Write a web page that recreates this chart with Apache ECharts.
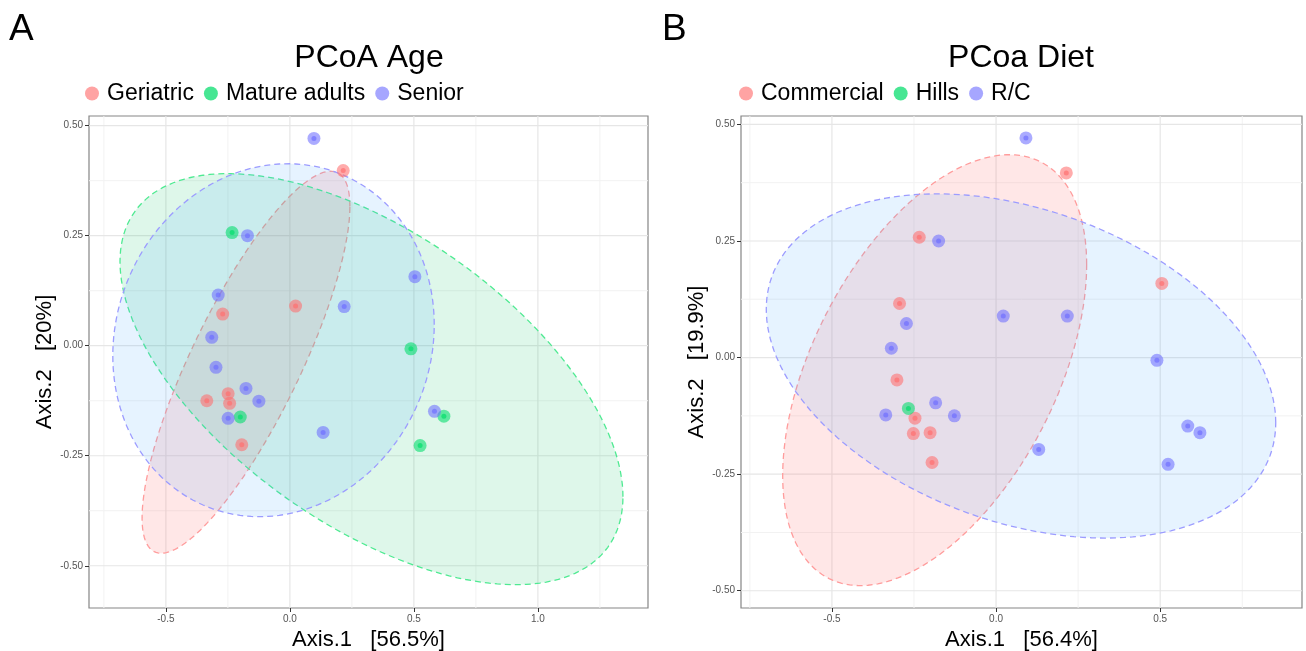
<!DOCTYPE html>
<html>
<head>
<meta charset="utf-8">
<title>PCoA Age / PCoa Diet</title>
<script src="https://cdn.jsdelivr.net/npm/echarts@6/dist/echarts.min.js"></script>
<style>
  html, body { margin: 0; padding: 0; background: #ffffff; }
  #chart { width: 1306px; height: 651px; }
</style>
</head>
<body>
<div id="chart"></div>
<script>
// ---------- Panel A: PCoA by age group ----------
const ageGroups = ['Geriatric', 'Mature adults', 'Senior'];
const ageGeriatric = [[0.215, 0.398], [-0.271, 0.072], [0.023, 0.090], [-0.249, -0.109], [-0.335, -0.125], [-0.243, -0.131], [-0.194, -0.225]];
const ageMature = [[-0.233, 0.257], [0.488, -0.007], [0.621, -0.160], [0.525, -0.227], [-0.200, -0.162]];
const ageSenior = [[0.097, 0.471], [-0.171, 0.250], [-0.289, 0.115], [0.219, 0.089], [-0.315, 0.019], [0.504, 0.157], [-0.298, -0.049], [-0.177, -0.097], [-0.125, -0.126], [-0.249, -0.165], [0.134, -0.197], [0.583, -0.149]];
// confidence ellipses: [centre x, centre y, half-width x, half-height y, correlation]
const ageEllipseGeriatric = [-0.177, -0.0375, 0.419, 0.434, 0.815];
const ageEllipseMature = [0.329, -0.076, 1.014, 0.467, -0.572];
const ageEllipseSenior = [-0.066, 0.0125, 0.648, 0.401, 0.088];
const ageXRange = [-0.810, 1.444];
const ageYRange = [-0.596, 0.522];
const ageXTicks = [-0.5, 0, 0.5, 1.0];
const ageXMinor = [-0.75, -0.25, 0.25, 0.75, 1.25];
const ageYTicks = [-0.5, -0.25, 0, 0.25, 0.5];
const ageYMinor = [-0.375, -0.125, 0.125, 0.375];

// ---------- Panel B: PCoA by diet ----------
const dietGroups = ['Commercial', 'Hills', 'R/C'];
const dietCommercial = [[-0.234, 0.258], [-0.294, 0.116], [0.214, 0.396], [0.505, 0.159], [-0.302, -0.048], [-0.247, -0.130], [-0.252, -0.163], [-0.201, -0.161], [-0.195, -0.225]];
const dietHills = [[-0.267, -0.109]];
const dietRC = [[-0.175, 0.250], [-0.273, 0.073], [0.022, 0.089], [-0.319, 0.020], [0.091, 0.471], [0.217, 0.089], [-0.184, -0.097], [-0.336, -0.123], [-0.127, -0.125], [0.490, -0.006], [0.584, -0.147], [0.621, -0.161], [0.130, -0.197], [0.524, -0.229]];
const dietEllipseCommercial = [-0.187, -0.027, 0.463, 0.462, 0.49];
const dietEllipseRC = [0.076, -0.018, 0.776, 0.369, -0.33];
const dietXRange = [-0.777, 0.932];
const dietYRange = [-0.537, 0.518];
const dietXTicks = [-0.5, 0, 0.5];
const dietXMinor = [-0.75, -0.25, 0.25, 0.75];
const dietYTicks = [-0.5, -0.25, 0, 0.25, 0.5];
const dietYMinor = [-0.375, -0.125, 0.125, 0.375];

// ---------- styling ----------
const FONT = '"Liberation Sans", Arial, Helvetica, sans-serif';
const RED = '#FF6F6F', GREEN = '#00DD6A', BLUE = '#6F6FFF';
const palette = {
  red:   { point: RED,   legend: 'rgba(255,111,111,0.64)', stroke: '#FF9C9C', fill: 'rgba(255,112,112,0.17)' },
  green: { point: GREEN, legend: 'rgba(0,221,106,0.72)',   stroke: '#4FEA92', fill: 'rgba(0,192,96,0.13)' },
  blue:  { point: BLUE,  legend: 'rgba(111,111,255,0.62)', stroke: '#9C9CFF', fill: 'rgba(80,170,255,0.14)' }
};

// Builds the outline of an ellipse (in data units) from its parameters.
function ellipseOutline(p, n) {
  const [cx, cy, a, b, r] = p;
  const s = Math.sqrt(1 - r * r);
  const pts = [];
  for (let i = 0; i < n; i++) {
    const t = (2 * Math.PI * i) / n;
    pts.push([cx + a * Math.cos(t), cy + b * (r * Math.cos(t) + s * Math.sin(t))]);
  }
  return pts;
}

function ellipseSeries(name, params, colors, axisIndex) {
  const outline = ellipseOutline(params, 180);
  return {
    type: 'custom', name: name, xAxisIndex: axisIndex, yAxisIndex: axisIndex,
    silent: true, clip: true, z: 2,
    data: [[params[0], params[1]]],
    renderItem: function (info, api) {
      return {
        type: 'polygon',
        shape: { points: outline.map(function (q) { return api.coord(q); }) },
        style: { fill: colors.fill, stroke: colors.stroke, lineWidth: 1.3, lineDash: [6, 4] }
      };
    }
  };
}

// Light background grid (major + minor lines) in data units.
function gridSeries(axisIndex, xr, yr, xMajor, xMinor, yMajor, yMinor) {
  return {
    type: 'custom', xAxisIndex: axisIndex, yAxisIndex: axisIndex, silent: true, z: 1,
    data: [[xr[0], yr[0]]],
    renderItem: function (info, api) {
      const children = [];
      function vline(v, color, w) {
        const p0 = api.coord([v, yr[0]]), p1 = api.coord([v, yr[1]]);
        children.push({ type: 'line', shape: { x1: p0[0], y1: p0[1], x2: p1[0], y2: p1[1] }, style: { stroke: color, lineWidth: w } });
      }
      function hline(v, color, w) {
        const p0 = api.coord([xr[0], v]), p1 = api.coord([xr[1], v]);
        children.push({ type: 'line', shape: { x1: p0[0], y1: p0[1], x2: p1[0], y2: p1[1] }, style: { stroke: color, lineWidth: w } });
      }
      xMinor.forEach(function (v) { vline(v, '#F2F2F2', 1); });
      yMinor.forEach(function (v) { hline(v, '#F2F2F2', 1); });
      xMajor.forEach(function (v) { vline(v, '#E6E6E6', 1.2); });
      yMajor.forEach(function (v) { hline(v, '#E6E6E6', 1.2); });
      return { type: 'group', children: children };
    }
  };
}

function pointSeries(name, data, color, axisIndex, inner) {
  return {
    type: 'scatter', name: name, xAxisIndex: axisIndex, yAxisIndex: axisIndex,
    data: data, symbol: 'circle', symbolSize: inner ? 5 : 13, z: inner ? 6 : 5,
    silent: true,
    itemStyle: { color: color, opacity: inner ? 0.68 : 0.58 },
    emphasis: { disabled: true }
  };
}

function xAxisCfg(idx, range, ticks, title) {
  return {
    type: 'value', gridIndex: idx, min: range[0], max: range[1], position: 'bottom',
    name: title, nameLocation: 'middle', nameGap: 15,
    nameTextStyle: { fontFamily: FONT, fontSize: 22, color: '#000' },
    axisLine: { show: false, onZero: false },
    axisTick: { show: true, customValues: ticks, length: 4, lineStyle: { color: '#333', width: 1 } },
    axisLabel: { customValues: ticks, margin: 6, fontFamily: FONT, fontSize: 10, color: '#555555',
      formatter: function (v) { return (+v).toFixed(1); } },
    splitLine: { show: false }, minorSplitLine: { show: false }
  };
}

function yAxisCfg(idx, range, ticks, title) {
  return {
    type: 'value', gridIndex: idx, min: range[0], max: range[1], position: 'left',
    name: title, nameLocation: 'middle', nameGap: 30, nameRotate: 90,
    nameTextStyle: { fontFamily: FONT, fontSize: 22, color: '#000' },
    axisLine: { show: false, onZero: false },
    axisTick: { show: true, customValues: ticks, length: 4, lineStyle: { color: '#333', width: 1 } },
    axisLabel: { customValues: ticks, margin: 6, fontFamily: FONT, fontSize: 10, color: '#555555',
      formatter: function (v) { return (+v).toFixed(2); } },
    splitLine: { show: false }, minorSplitLine: { show: false }
  };
}

function legendCfg(left, groups, colors) {
  return {
    left: left, top: 82, orient: 'horizontal', padding: 0,
    icon: 'circle', itemWidth: 20, itemHeight: 14, itemGap: 10,
    selectedMode: false,
    textStyle: { fontFamily: FONT, fontSize: 23, color: '#000' },
    data: groups.map(function (g, i) { return { name: g, itemStyle: { color: colors[i], opacity: 1 } }; })
  };
}

function textEl(text, x, y, size, align) {
  return { type: 'text', x: x, y: y, silent: true,
    style: { text: text, fontFamily: FONT, fontSize: size, fill: '#000', textAlign: align, textVerticalAlign: 'middle' } };
}

const chart = echarts.init(document.getElementById('chart'), null, { renderer: 'canvas' });

const option = {
  backgroundColor: '#ffffff',
  animation: false,
  grid: [
    { left: 89, top: 116, width: 559, height: 492, show: true, borderColor: '#858585', borderWidth: 1.2, backgroundColor: 'transparent', outerBoundsMode: 'none', containLabel: false },
    { left: 741, top: 116, width: 561, height: 492, show: true, borderColor: '#858585', borderWidth: 1.2, backgroundColor: 'transparent', outerBoundsMode: 'none', containLabel: false }
  ],
  xAxis: [
    xAxisCfg(0, ageXRange, ageXTicks, 'Axis.1   [56.5%]'),
    xAxisCfg(1, dietXRange, dietXTicks, 'Axis.1   [56.4%]')
  ],
  yAxis: [
    yAxisCfg(0, ageYRange, ageYTicks, 'Axis.2   [20%]'),
    yAxisCfg(1, dietYRange, dietYTicks, 'Axis.2   [19.9%]')
  ],
  legend: [
    legendCfg(85, ageGroups, [palette.red.legend, palette.green.legend, palette.blue.legend]),
    legendCfg(739, dietGroups, [palette.red.legend, palette.green.legend, palette.blue.legend])
  ],
  graphic: [
    textEl('A', 9, 30, 37, 'left'),
    textEl('B', 662, 30, 37, 'left'),
    textEl('PCoA Age', 369, 58, 32, 'center'),
    textEl('PCoa Diet', 1021, 58, 32, 'center')
  ],
  series: [
    gridSeries(0, ageXRange, ageYRange, ageXTicks, ageXMinor, ageYTicks, ageYMinor),
    gridSeries(1, dietXRange, dietYRange, dietXTicks, dietXMinor, dietYTicks, dietYMinor),

    ellipseSeries('Geriatric ellipse', ageEllipseGeriatric, palette.red, 0),
    ellipseSeries('Mature adults ellipse', ageEllipseMature, palette.green, 0),
    ellipseSeries('Senior ellipse', ageEllipseSenior, palette.blue, 0),
    ellipseSeries('Commercial ellipse', dietEllipseCommercial, palette.red, 1),
    ellipseSeries('R/C ellipse', dietEllipseRC, palette.blue, 1),

    pointSeries('Geriatric', ageGeriatric, RED, 0, false),
    pointSeries('Mature adults', ageMature, GREEN, 0, false),
    pointSeries('Senior', ageSenior, BLUE, 0, false),
    pointSeries('Geriatric', ageGeriatric, RED, 0, true),
    pointSeries('Mature adults', ageMature, GREEN, 0, true),
    pointSeries('Senior', ageSenior, BLUE, 0, true),

    pointSeries('Commercial', dietCommercial, RED, 1, false),
    pointSeries('Hills', dietHills, GREEN, 1, false),
    pointSeries('R/C', dietRC, BLUE, 1, false),
    pointSeries('Commercial', dietCommercial, RED, 1, true),
    pointSeries('Hills', dietHills, GREEN, 1, true),
    pointSeries('R/C', dietRC, BLUE, 1, true)
  ]
};

chart.setOption(option);
</script>
</body>
</html>
